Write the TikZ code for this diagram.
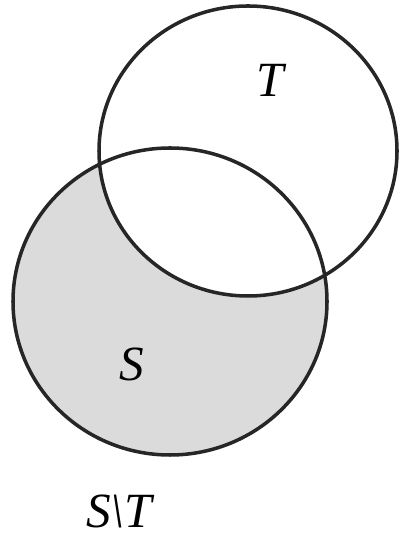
\documentclass[tikz,border=0pt]{standalone}
\usepackage{fontspec}
\setmainfont{Liberation Serif}
\usepackage{tikz}
\usetikzlibrary{positioning}

\begin{document}
\begin{tikzpicture}[
    setline/.style={draw=black!85, line width=2.5pt},
    setlabel/.style={font=\fontsize{35}{37}\selectfont\itshape, inner sep=0pt}
]
\useasboundingbox (0,0) rectangle (10.15,13.55);

% S without T
\fill[black!14] (4.25,6.0125) ellipse [x radius=3.925cm, y radius=3.8375cm];
\fill[white] (6.2,9.775) ellipse [x radius=3.725cm, y radius=3.625cm];

\draw[setline] (6.2,9.775) ellipse [x radius=3.725cm, y radius=3.625cm];
\draw[setline] (4.25,6.0125) ellipse [x radius=3.925cm, y radius=3.8375cm];

\node[setlabel] (T) at (6.75,11.55) {T};
\node[setlabel] (S) at (3.3,4.45) {S};
\node[setlabel] (SminusT) at (2.975,0.775) {S\textbackslash T};
\end{tikzpicture}
\end{document}
